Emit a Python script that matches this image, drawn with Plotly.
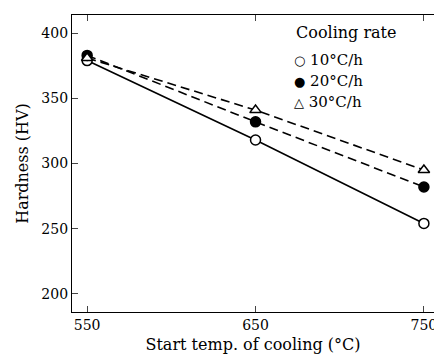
import plotly.graph_objects as go

temps = [550, 650, 750]
rate_10 = [379, 318, 254]
rate_20 = [383, 332, 282]
rate_30 = [381, 341, 295]
series_names = ["10°C/h", "20°C/h", "30°C/h"]
legend_glyphs = ["○", "●", "△"]
legend_title = "Cooling rate"

FONT = "DejaVu Serif"

fig = go.Figure()
styles = [
    (rate_10, "solid", "circle", "white"),
    (rate_20, "9px,5px", "circle", "black"),
    (rate_30, "9px,5px", "triangle-up", "white"),
]
for (vals, dash, sym, fill), name in zip(styles, series_names):
    fig.add_trace(go.Scatter(
        x=temps, y=vals, mode="lines+markers", name=name, showlegend=False,
        line=dict(color="black", width=1.6, dash=dash),
        marker=dict(symbol=sym, size=10, color=fill,
                    line=dict(color="black", width=1.5)),
        cliponaxis=False,
    ))

# legend drawn as text (title + glyph entries)
fig.add_annotation(x=0.612, y=0.94, xref="paper", yref="paper", xanchor="left",
                   yanchor="middle", showarrow=False, text=legend_title,
                   font=dict(family=FONT, size=16))
for i, (g, name) in enumerate(zip(legend_glyphs, series_names)):
    fig.add_annotation(x=0.608, y=0.85 - i * 0.072, xref="paper", yref="paper",
                       xanchor="left", yanchor="middle", showarrow=False,
                       text=f"<span style='font-family:DejaVu Sans;font-size:13px'>{g}</span> {name}",
                       font=dict(family=FONT, size=15))

fig.update_layout(
    width=434, height=360,
    margin=dict(l=72, r=0, t=15, b=48),
    paper_bgcolor="white", plot_bgcolor="white",
    font=dict(family=FONT, size=14, color="black"),
    showlegend=False,
    xaxis=dict(
        range=[541, 756], tickvals=temps, ticks="inside", ticklen=6,
        showline=True, linecolor="black", linewidth=1.2, mirror="ticks",
        showgrid=False, zeroline=False, automargin=False,
        ticklabeloverflow="allow",
        tickfont=dict(family=FONT, size=14),
        title=dict(text="Start temp. of cooling (°C)", font=dict(family=FONT, size=16), standoff=6),
    ),
    yaxis=dict(
        range=[186, 414], tickvals=[200, 250, 300, 350, 400], ticks="inside", ticklen=6,
        showline=True, linecolor="black", linewidth=1.2,
        showgrid=False, zeroline=False, automargin=False,
        tickfont=dict(family=FONT, size=14),
        title=dict(text="Hardness (HV)", font=dict(family=FONT, size=16), standoff=8),
    ),
)

fig.write_html("out.html", config={"displayModeBar": False},
               post_script="document.body.style.margin='0';")
